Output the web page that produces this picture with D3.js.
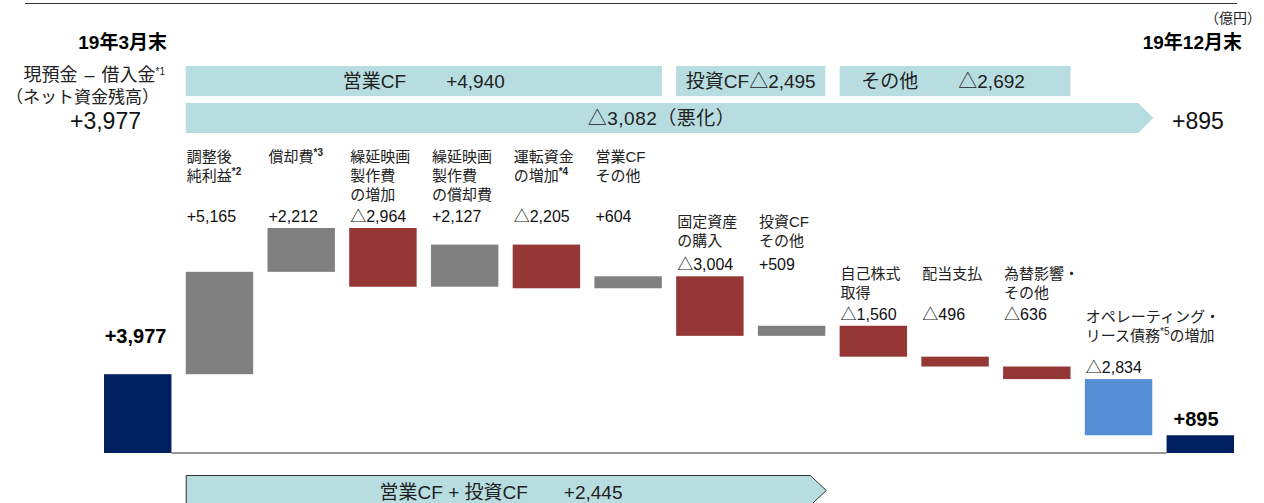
<!DOCTYPE html>
<html>
<head>
<meta charset="utf-8">
<script src="https://cdn.jsdelivr.net/npm/d3@7"></script>
<style>
  body { margin: 0; background: #fff; }
  svg { display: block; }
  text { font-family: "Liberation Sans", Arial, "Noto Sans CJK JP", sans-serif; fill: #000; }
</style>
</head>
<body>
<div id="chart"></div>
<script>
// waterfall steps, 19年3月末 -> 19年12月末 (億円)
var labelLines = [
    [],
    ["調整後", "純利益^*2"],
    ["償却費^*3"],
    ["繰延映画", "製作費", "の増加"],
    ["繰延映画", "製作費", "の償却費"],
    ["運転資金", "の増加^*4"],
    ["営業CF", "その他"],
    ["固定資産", "の購入"],
    ["投資CF", "その他"],
    ["自己株式", "取得"],
    ["配当支払"],
    ["為替影響・", "その他"],
    ["オペレーティング・", "リース債務^*5の増加"],
    []
]
var values = [3977, 5165, 2212, -2964, 2127, -2205, 604, -3004, 509, -1560, -496, -636, -2834, 895]
var kinds = ["total", "flow", "flow", "flow", "flow", "flow", "flow", "flow", "flow", "flow", "flow", "flow", "lease", "total"]
// label group of each step (bars in a group share one label row)
var groups = [-1, 0, 0, 0, 0, 0, 0, 1, 1, 2, 2, 2, 3, -1]

var bannerNames = ["営業CF", "投資CF", "その他"]
var bannerValues = [4940, -2495, -2692]
var bannerFrom = [1, 7, 9]
var bannerTo = [6, 8, 11]
var totalChange = -3082
var totalFrom = 1, totalTo = 12
var opInvName = "営業CF + 投資CF"
var opInvValue = 2445
var opInvFrom = 1, opInvTo = 8

var colors = { total: "#002060", pos: "#808080", neg: "#953735", lease: "#558ED5", band: "#B7DDE1" }

var W = 1264, H = 503
var baseY = 453
var labelGap = [22, 24, 22, 32]
var lineH = 19

var fmt = d3.format(",")
function signed(v) { return v >= 0 ? "+" + fmt(v) : "△" + fmt(-v) }

// running totals
var steps = []
var run = 0
values.forEach(function (v, i) {
    var s = {}
    s.i = i
    s.v = v
    s.kind = kinds[i]
    if (kinds[i] == "total") { s.y0 = 0; s.y1 = v; run = v }
    else { s.y0 = run; s.y1 = run + v; run = run + v }
    s.lo = Math.min(s.y0, s.y1)
    s.hi = Math.max(s.y0, s.y1)
    steps.push(s)
})

var svg = d3.select("#chart").append("svg")
    .attr("width", W)
    .attr("height", H)

var x = d3.scaleBand()
    .domain(d3.range(values.length))
    .range([104, 1234])
    .paddingInner(0.175)
    .paddingOuter(0)

var y = d3.scaleLinear()
    .domain([0, 12000])
    .range([baseY, baseY - 12000 * 225 / 11354])

function fill(d) {
    if (d.kind == "total") return colors.total
    if (d.kind == "lease") return colors.lease
    return d.v >= 0 ? colors.pos : colors.neg
}

// write text with ^*n superscripts as tspans
function richText(sel, str, supSize, supBold) {
    var parts = str.split(/(\^\*\d)/)
    var back = 0
    parts.forEach(function (p) {
        if (!p) return
        if (p[0] == "^") {
            sel.append("tspan").attr("dy", -6)
                .style("font-size", supSize + "px")
                .style("font-weight", supBold ? "bold" : "normal")
                .text(p.slice(1))
            back = 6
        } else {
            sel.append("tspan").attr("dy", back).text(p)
            back = 0
        }
    })
}

// top rule
svg.append("line")
    .attr("x1", 25).attr("x2", 1237)
    .attr("y1", 3.5).attr("y2", 3.5)
    .style("stroke", "#333").style("stroke-width", 1)

// headers
svg.append("text").attr("x", 1261).attr("y", 23).attr("text-anchor", "end")
    .style("font-size", "14px").style("fill", "#222").text("（億円）")
svg.append("text").attr("x", 167).attr("y", 49).attr("text-anchor", "end")
    .style("font-size", "19px").style("font-weight", "bold").text("19年3月末")
svg.append("text").attr("x", 1242).attr("y", 49).attr("text-anchor", "end")
    .style("font-size", "19px").style("font-weight", "bold").text("19年12月末")
var t1 = svg.append("text").attr("x", 165).attr("y", 81).attr("text-anchor", "end")
    .style("font-size", "18px").style("fill", "#222").style("word-spacing", "2px")
richText(t1, "現預金 – 借入金^*1", 10, false)
svg.append("text").attr("x", 6).attr("y", 103)
    .style("font-size", "17px").style("fill", "#222").text("（ネット資金残高）")
svg.append("text").attr("x", 141).attr("y", 129).attr("text-anchor", "end")
    .style("font-size", "23px").style("fill", "#111").text(signed(values[0]))
svg.append("text").attr("x", 1172).attr("y", 129)
    .style("font-size", "23px").style("fill", "#111").text(signed(values[values.length - 1]))

// banners
var bw = x.bandwidth()
bannerNames.forEach(function (name, k) {
    var x0 = x(bannerFrom[k]), x1 = x(bannerTo[k]) + bw
    svg.append("rect")
        .attr("x", x0).attr("y", 66)
        .attr("width", x1 - x0).attr("height", 30)
        .style("fill", colors.band)
    var gap = k == 1 ? 0 : 40
    svg.append("text")
        .attr("x", (x0 + x1) / 2 - (k == 2 ? 12 : 0)).attr("y", 88)
        .attr("text-anchor", "middle")
        .style("font-size", "19px").style("fill", "#222")
        .call(function (t) {
            t.append("tspan").text(name)
            t.append("tspan").attr("dx", gap).text(signed(bannerValues[k]))
        })
})

function arrowPath(x0, x1, yTop, h, tip) {
    return "M" + x0 + "," + yTop +
        "H" + (x1 - tip) +
        "L" + x1 + "," + (yTop + h / 2) +
        "L" + (x1 - tip) + "," + (yTop + h) +
        "H" + x0 + "Z"
}

var ax0 = x(totalFrom), ax1 = x(totalTo) + bw + 1
svg.append("path")
    .attr("d", arrowPath(ax0, ax1, 103, 30, 15))
    .style("fill", colors.band)
svg.append("text")
    .attr("x", (ax0 + ax1) / 2 - 8).attr("y", 125)
    .attr("text-anchor", "middle")
    .style("font-size", "19px").style("fill", "#222").style("letter-spacing", "0.5px")
    .text(signed(totalChange) + "（悪化）")

var bx0 = x(opInvFrom), bx1 = x(opInvTo) + bw + 1
svg.append("path")
    .attr("d", arrowPath(bx0 + 0.5, bx1, 475.5, 30, 16))
    .style("fill", colors.band)
    .style("stroke", "#333").style("stroke-width", 1)
svg.append("text")
    .attr("x", (bx0 + bx1) / 2 - 5).attr("y", 499)
    .attr("text-anchor", "middle")
    .style("font-size", "19px").style("fill", "#222")
    .call(function (t) {
        t.append("tspan").text(opInvName)
        t.append("tspan").attr("dx", 36).text(signed(opInvValue))
    })

// baseline
svg.append("line")
    .attr("x1", x(0) + bw).attr("x2", x(values.length - 1))
    .attr("y1", baseY).attr("y2", baseY)
    .style("stroke", "#333").style("stroke-width", 1)

// bars
svg.selectAll(".bar")
    .data(steps)
    .enter()
    .append("rect")
    .attr("class", "bar")
    .attr("x", function (d) { return x(d.i) })
    .attr("y", function (d) { return y(d.hi) })
    .attr("width", bw)
    .attr("height", function (d) { return Math.max(1, y(d.lo) - y(d.hi)) })
    .style("fill", fill)

// step labels, one row per group
var groupTop = {}
var groupLines = {}
steps.forEach(function (d) {
    var g = groups[d.i]
    if (g < 0) return
    groupTop[g] = Math.min(groupTop[g] === undefined ? 1e9 : groupTop[g], y(d.hi))
    groupLines[g] = Math.max(groupLines[g] || 0, labelLines[d.i].length)
})

steps.forEach(function (d) {
    var g = groups[d.i]
    if (g < 0) return
    var vBase = groupTop[g] - 6
    var lx = x(d.i) + 1
    svg.append("text")
        .attr("x", lx).attr("y", vBase)
        .style("font-size", "16px").style("fill", "#111")
        .text(signed(d.v))
    var firstBase = vBase - labelGap[g] - (groupLines[g] - 1) * lineH
    labelLines[d.i].forEach(function (line, j) {
        var t = svg.append("text")
            .attr("x", lx).attr("y", firstBase + j * lineH)
            .style("font-size", "15px").style("fill", "#222")
        richText(t, line, 10, g != 3)
    })
})

// totals in bold
svg.append("text")
    .attr("x", x(0) + bw - 5).attr("y", y(values[0]) - 31)
    .attr("text-anchor", "end")
    .style("font-size", "20px").style("font-weight", "bold")
    .text(signed(values[0]))
var last = steps[steps.length - 1]
svg.append("text")
    .attr("x", x(last.i) + 7).attr("y", y(last.hi) - 9)
    .style("font-size", "20px").style("font-weight", "bold")
    .text(signed(last.v))
</script>
</body>
</html>
